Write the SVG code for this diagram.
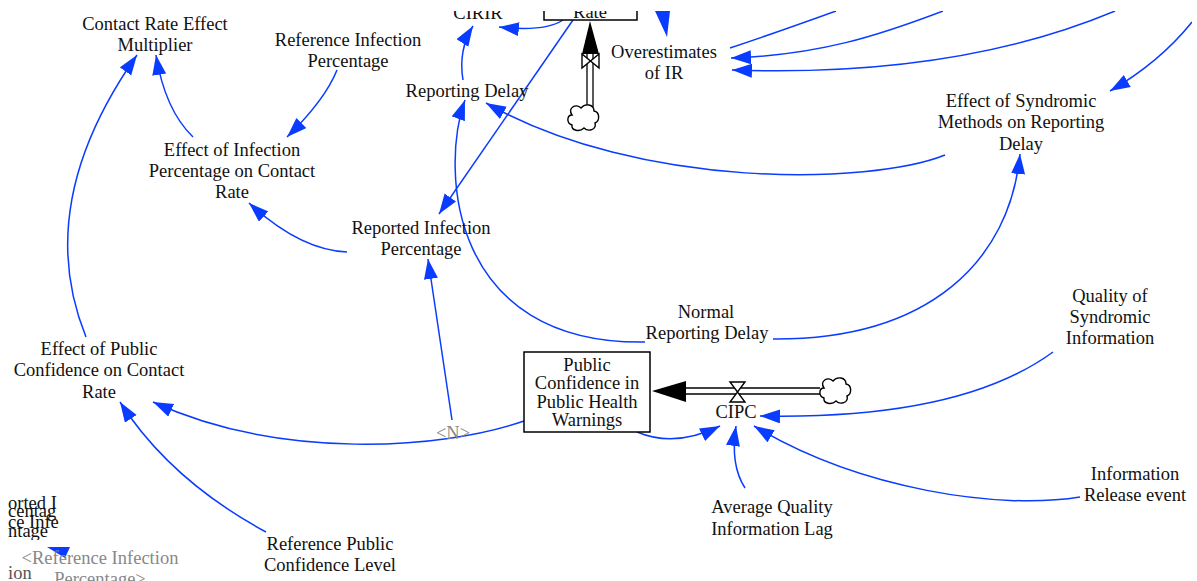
<svg xmlns="http://www.w3.org/2000/svg" width="1197" height="581" viewBox="0 0 1197 581">
<style>
text{font-family:'Liberation Serif','DejaVu Serif',serif;font-size:18.5px}
.t{fill:#111;text-anchor:middle}
.g{fill:#888}
.l{text-anchor:start}
.c{fill:none;stroke:#0a3cff;stroke-width:1.5}
.ca{fill:none;stroke:#0a3cff;stroke-width:1.5;marker-end:url(#ah)}
.pipe{fill:none;stroke:#000;stroke-width:1.3}
.box{fill:#fff;stroke:#000;stroke-width:1.5}
.cloud{fill:#fff;stroke:#000;stroke-width:1.4}
.valve{fill:#fff;stroke:#000;stroke-width:1.4}
</style>
<defs>
<marker id="ah" markerUnits="userSpaceOnUse" markerWidth="21" markerHeight="15" refX="20" refY="7" orient="auto">
<path d="M0,0 L20,7 L0,14 Z" fill="#0a3cff"/>
</marker>
<clipPath id="vp"><rect x="0" y="11" width="1192" height="570"/></clipPath>
<clipPath id="frag"><rect x="6" y="490" width="55" height="50"/></clipPath>
<path id="cl" d="M-11,-3 C-16,-10 -7,-15 -2,-10 C2,-15 11,-14 11,-7 C17,-6 17,3 12,5 C14,12 5,14 1,10 C-3,14 -12,13 -11,7 C-17,5 -16,-3 -11,-3 Z"/>
</defs>
<rect width="1197" height="581" fill="#fff"/>
<g clip-path="url(#vp)">
<g id="connectors">
<path class="ca" d="M86,337 Q32,204 137,55"/>
<path class="ca" d="M193,137 Q165,110 156,55"/>
<path class="ca" d="M337,70 Q325,100 287,137"/>
<path class="ca" d="M347,252 Q300,250 249,203"/>
<path class="ca" d="M463,80 Q458,50 473,26"/>
<path class="ca" d="M563,20 Q545,32 499,27"/>
<path class="ca" d="M573,20 L439,214"/>
<path class="ca" d="M645,342 C450,345 440,170 465,100"/>
<path class="ca" d="M945,155 C870,185 640,190 486,103"/>
<path class="ca" d="M773,339 C930,340 1010,260 1020,154"/>
<path class="ca" d="M1053,352 Q960,420 760,416"/>
<path class="ca" d="M1080,497 C1000,510 860,490 754,426"/>
<path class="ca" d="M745,488 Q730,465 736,426"/>
<path class="ca" d="M637,432 Q675,448 720,426"/>
<path class="ca" d="M524,421 C440,450 280,460 153,402"/>
<path class="ca" d="M266,532 Q170,480 120,402"/>
<path class="ca" d="M452,420 L428,259"/>
<path class="c" d="M730,48 Q775,33 836,11"/>
<path class="ca" d="M943,11 C880,35 820,55 731,58"/>
<path class="ca" d="M1115,11 C1010,55 880,75 732,70"/>
<path class="ca" d="M1192,22 Q1160,62 1110,91"/>
<polygon points="655,11 670,11 667,37" fill="#0a3cff"/>
<polygon points="47,547 70,547 65,558" fill="#0a3cff"/>
</g>
<g id="flow-rate">
<line class="pipe" x1="587" y1="54" x2="587" y2="107"/>
<line class="pipe" x1="593" y1="54" x2="593" y2="107"/>
<polygon points="590,21 582,54 599,54" fill="#000"/>
<path class="valve" d="M582,54 L582,68 L599,54 L599,68 Z"/>
<use href="#cl" class="cloud" transform="translate(583,118)"/>
</g>
<g id="flow-cipc">
<line class="pipe" x1="685" y1="388" x2="820" y2="388"/>
<line class="pipe" x1="685" y1="394" x2="820" y2="394"/>
<polygon points="652,391 686,381 686,402" fill="#000"/>
<path class="valve" d="M730,382 L745,382 L730,402 L745,402 Z"/>
<use href="#cl" class="cloud" transform="translate(835,391)"/>
<text class="t" x="736" y="418">CIPC</text>
</g>
<g id="rate">
<rect class="box" x="544" y="-30" width="93" height="50"/>
<text class="t" x="590" y="18">Rate</text>
</g>
<g id="public-confidence">
<rect class="box" x="524" y="352" width="126" height="80"/>
<text class="t" x="587" y="371">Public</text>
<text class="t" x="587" y="389">Confidence in</text>
<text class="t" x="587" y="408">Public Health</text>
<text class="t" x="587" y="426">Warnings</text>
</g>
<g id="cirir"><text class="t" x="478" y="19">CIRIR</text></g>
<g id="contact-rate-effect-multiplier">
<text class="t" x="155" y="30">Contact Rate Effect</text>
<text class="t" x="155" y="51">Multiplier</text>
</g>
<g id="reference-infection-percentage">
<text class="t" x="348" y="46">Reference Infection</text>
<text class="t" x="348" y="67">Percentage</text>
</g>
<g id="effect-infection">
<text class="t" x="232" y="156">Effect of Infection</text>
<text class="t" x="232" y="177">Percentage on Contact</text>
<text class="t" x="232" y="198">Rate</text>
</g>
<g id="reported-infection-percentage">
<text class="t" x="421" y="234">Reported Infection</text>
<text class="t" x="421" y="255">Percentage</text>
</g>
<g id="reporting-delay"><text class="t" x="467" y="97">Reporting Delay</text></g>
<g id="overestimates">
<text class="t" x="664" y="58">Overestimates</text>
<text class="t" x="664" y="79">of IR</text>
</g>
<g id="effect-syndromic">
<text class="t" x="1021" y="107">Effect of Syndromic</text>
<text class="t" x="1021" y="128">Methods on Reporting</text>
<text class="t" x="1021" y="150">Delay</text>
</g>
<g id="normal-reporting-delay">
<text class="t" x="706" y="318">Normal</text>
<text class="t" x="707" y="339">Reporting Delay</text>
</g>
<g id="effect-public-confidence">
<text class="t" x="99" y="355">Effect of Public</text>
<text class="t" x="99" y="376">Confidence on Contact</text>
<text class="t" x="99" y="398">Rate</text>
</g>
<g id="reference-public-confidence">
<text class="t" x="330" y="550">Reference Public</text>
<text class="t" x="330" y="571">Confidence Level</text>
</g>
<g id="average-quality">
<text class="t" x="772" y="513">Average Quality</text>
<text class="t" x="772" y="535">Information Lag</text>
</g>
<g id="quality-syndromic">
<text class="t" x="1110" y="302">Quality of</text>
<text class="t" x="1110" y="323">Syndromic</text>
<text class="t" x="1110" y="344">Information</text>
</g>
<g id="information-release">
<text class="t" x="1135" y="480">Information</text>
<text class="t" x="1135" y="501">Release event</text>
</g>
<g id="shadow-n"><text class="t g" x="453" y="439">&lt;N&gt;</text></g>
<g id="clipped-fragments" clip-path="url(#frag)">
<text class="t l" x="8" y="509">orted I</text>
<text class="t l" x="8" y="517">centag</text>
<text class="t l" x="8" y="528">ce Infe</text>
<text class="t l" x="8" y="537">ntage</text>
</g>
<text class="t l" x="8" y="579" style="fill:#555">ion</text>
<g id="shadow-reference-infection">
<text class="t g" x="100" y="564">&lt;Reference Infection</text>
<text class="t g" x="100" y="585">Percentage&gt;</text>
</g>
</g>
</svg>
